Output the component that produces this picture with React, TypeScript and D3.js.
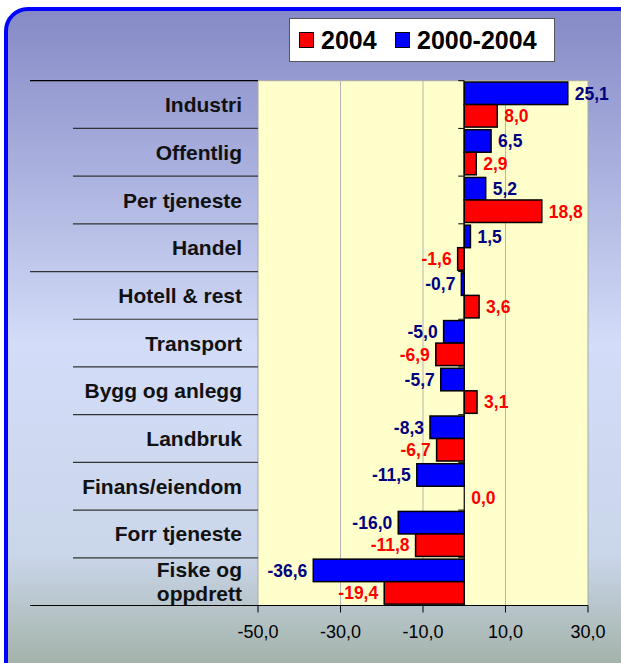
import * as d3 from "d3";

const categories = [
  "Industri",
  "Offentlig",
  "Per tjeneste",
  "Handel",
  "Hotell & rest",
  "Transport",
  "Bygg og anlegg",
  "Landbruk",
  "Finans/eiendom",
  "Forr tjeneste",
  "Fiske og oppdrett",
];
const values2004 = [8.0, 2.9, 18.8, -1.6, 3.6, -6.9, 3.1, -6.7, 0.0, -11.8, -19.4];
const values0004 = [25.1, 6.5, 5.2, 1.5, -0.7, -5.0, -5.7, -8.3, -11.5, -16.0, -36.6];
const xTicks = [-50, -30, -10, 10, 30];
const seriesNames = ["2004", "2000-2004"];

const W = 621, H = 663;
const left = 258, right = 588, top = 80.7, bottom = 605.5;
const FONT = "'Liberation Sans', Arial, sans-serif";
const fmt = (v: number) => v.toFixed(1).replace(".", ",");

export default function App() {
  const x = d3.scaleLinear().domain([-50, 30]).range([left, right]);
  const y = d3.scaleBand().domain(categories).range([top, bottom]);
  const inner = d3.scaleBand().domain(["a", "b"]).range([0, y.bandwidth()]).paddingOuter(0.06);
  const x0 = x(0);

  const series = [
    { key: "a", vals: values0004, fill: "#0000ff", text: "#000080" },
    { key: "b", vals: values2004, fill: "#ff0000", text: "#ff0000" },
  ];

  const longLines = new Set([0, 4, categories.length]);

  return (
    <svg width={W} height={H} style={{ position: "absolute", left: 0, top: 0 }} fontFamily={FONT}>
      <defs>
        <linearGradient id="bg" x1="0" y1="0" x2="0" y2="1">
          <stop offset="0" stopColor="#8589c6" />
          <stop offset="0.48" stopColor="#d3dcf8" />
          <stop offset="0.78" stopColor="#cad6ea" />
          <stop offset="1" stopColor="#93a48f" />
        </linearGradient>
      </defs>
      <rect x={6} y={9} width={650} height={700} rx={22} fill="url(#bg)" stroke="#0000ff" strokeWidth={4} />

      {/* legend */}
      <rect x={289.5} y={18.5} width={265} height={43} fill="#fff" stroke="#555" />
      <rect x={299.5} y={32.5} width={14} height={15} fill="#ff0000" stroke="#000" />
      <text x={321} y={49} fontSize={25} fontWeight="bold">{seriesNames[0]}</text>
      <rect x={395.5} y={32.5} width={14} height={15} fill="#0000ff" stroke="#000" />
      <text x={417} y={49} fontSize={25} fontWeight="bold">{seriesNames[1]}</text>

      {/* plot area */}
      <rect x={left} y={top} width={right - left} height={bottom - top} fill="#ffffcc" stroke="#a8a8a8" />
      {xTicks.slice(1, -1).map((t) => (
        <line key={t} x1={x(t)} x2={x(t)} y1={top} y2={bottom} stroke="#b4b4b4" />
      ))}

      {/* category separators */}
      {d3.range(categories.length + 1).map((i) => {
        const yy = top + i * y.step();
        return (
          <line key={i} x1={longLines.has(i) ? 30 : 73} x2={left} y1={yy} y2={yy}
            stroke={i === 0 || i === categories.length ? "#000" : "#333"} strokeWidth={1.2} />
        );
      })}

      {/* bars */}
      {series.map((s) =>
        categories.map((c, i) => {
          const v = s.vals[i];
          const by = y(c)! + inner(s.key)!;
          const bh = inner.bandwidth();
          return (
            <g key={s.key + c}>
              {v !== 0 && (
                <rect x={Math.min(x(v), x0)} y={by} width={Math.abs(x(v) - x0)} height={bh}
                  fill={s.fill} stroke="#000" strokeWidth={1.5} />
              )}
              <text x={v >= 0 ? x(v) + 7 : x(v) - 6} y={by + bh / 2} dy="0.36em"
                textAnchor={v >= 0 ? "start" : "end"} fontSize={17.5} fontWeight="bold" fill={s.text}>
                {fmt(v)}
              </text>
            </g>
          );
        })
      )}

      {/* zero axis with ticks */}
      <line x1={x0} x2={x0} y1={top} y2={bottom} stroke="#000" strokeWidth={1.2} />
      {d3.range(categories.length + 1).map((i) => (
        <line key={i} x1={x0 - 6} x2={x0} y1={top + i * y.step()} y2={top + i * y.step()} stroke="#000" />
      ))}

      {/* category labels */}
      {categories.map((c) => {
        const cy = y(c)! + y.bandwidth() / 2;
        if (c === "Fiske og oppdrett") {
          return (
            <text key={c} x={242} y={cy} textAnchor="end" fontSize={21} fontWeight="bold" fill="#111">
              <tspan x={242} dy="-0.22em">Fiske og</tspan>
              <tspan x={242} dy="1.15em">oppdrett</tspan>
            </text>
          );
        }
        return (
          <text key={c} x={242} y={cy} dy="0.36em" textAnchor="end" fontSize={21} fontWeight="bold" fill="#111">
            {c}
          </text>
        );
      })}

      {/* value axis */}
      <line x1={30} x2={right} y1={bottom} y2={bottom} stroke="#000" strokeWidth={1.2} />
      {xTicks.map((t) => (
        <g key={t}>
          <line x1={x(t)} x2={x(t)} y1={bottom} y2={bottom + 7} stroke="#000" />
          <text x={x(t)} y={638} textAnchor="middle" fontSize={18} fill="#000">{fmt(t)}</text>
        </g>
      ))}
    </svg>
  );
}
